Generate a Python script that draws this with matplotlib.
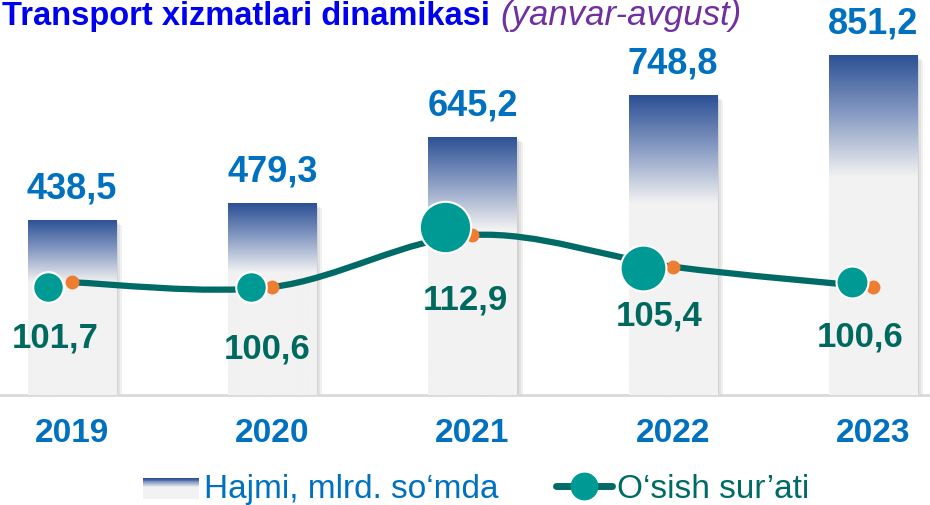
import matplotlib
matplotlib.use("Agg")
import matplotlib.pyplot as plt
import numpy as np
from matplotlib.colors import LinearSegmentedColormap
from matplotlib.patches import Rectangle, PathPatch
from matplotlib.path import Path
from matplotlib.lines import Line2D
from matplotlib.transforms import offset_copy
from matplotlib.legend_handler import HandlerBase

plt.rcParams['font.family'] = ['Liberation Sans', 'DejaVu Sans']

# data
years = ['2019', '2020', '2021', '2022', '2023']
volume = [438.5, 479.3, 645.2, 748.8, 851.2]      # mlrd. so'm
growth = [101.7, 100.6, 112.9, 105.4, 100.6]      # o'sish sur'ati, %

# styles
blue_txt = '#0070C0'
teal_txt = '#00695F'
line_col = '#006B66'
teal = '#009A94'
orange = '#ED7D31'
mk_size = [22, 22, 37, 33, 23]                    # teal marker diameter, pt
mk_off = [(-24, 5), (-21, 0), (-27, -8), (-30, 1), (-21, -5)]   # px, y down
lab_off = [(-17, 55), (-5, 61), (-7, 64), (-14, 48), (-13, 49)]  # px, y down

grad = LinearSegmentedColormap.from_list(
    'g', [(0, '#2B5094'), (0.17, '#8599C2'), (0.36, '#F2F2F2'), (1, '#F2F2F2')])

fig = plt.figure(figsize=(9.3, 5.06), dpi=100)
ax = fig.add_axes([0, 110 / 506, 1, 396 / 506])
x = np.arange(len(years))
w = 0.44

# shadows
for dx, dy, a in [(2, -2, 0.16), (4, -4, 0.13), (6, -5, 0.10)]:
    tr = offset_copy(ax.transData, fig=fig, x=dx, y=dy, units='dots')
    ax.bar(x, volume, width=w, color='#7F7F7F', alpha=a, transform=tr, zorder=1)

bars = ax.bar(x, volume, width=w, color='#F2F2F2', zorder=2)
g = np.linspace(0, 1, 256).reshape(-1, 1)
for b in bars:
    im = ax.imshow(g, cmap=grad, aspect='auto', origin='upper',
                   extent=[b.get_x(), b.get_x() + b.get_width(), 0, b.get_height()],
                   zorder=3)
    im.set_clip_path(b)

for i, v in enumerate(volume):
    ax.annotate(f'{v:.1f}'.replace('.', ','), (x[i], v), xytext=(0, 32),
                textcoords='offset pixels', ha='center', va='center',
                fontsize=26, fontweight='bold', color=blue_txt)

ax.set_xlim(-0.3596, 4.285)
ax.set_ylim(0, 990)
ax.set_yticks([])
ax.set_xticks(x)
ax.set_xticklabels(years, fontsize=24, fontweight='bold', color=blue_txt)
ax.tick_params(axis='x', length=0, pad=16)
for s in ['top', 'left', 'right']:
    ax.spines[s].set_visible(False)
ax.spines['bottom'].set_color('#D9D9D9')
ax.spines['bottom'].set_linewidth(2)

# growth line on second axis
ax2 = ax.twinx()
ax2.set_ylim(75.07, 168.69)
ax2.set_xlim(ax.get_xlim())
ax2.axis('off')

pts = np.column_stack([x, growth]).astype(float)
ext = np.vstack([pts[0], pts, pts[-1]])
verts = [pts[0]]
codes = [Path.MOVETO]
for i in range(len(pts) - 1):
    p0, p1, p2, p3 = ext[i], ext[i + 1], ext[i + 2], ext[i + 3]
    verts += [p1 + (p2 - p0) / 6, p2 - (p3 - p1) / 6, p2]
    codes += [Path.CURVE4] * 3
ax2.add_patch(PathPatch(Path(verts, codes), fill=False, edgecolor=line_col,
                        lw=4.5, capstyle='round', zorder=2))
ax2.plot(x, growth, 'o', ms=10, color=orange, mec='none', zorder=3)
for i, gv in enumerate(growth):
    dx, dy = mk_off[i]
    tr = offset_copy(ax2.transData, fig=fig, x=dx, y=-dy, units='dots')
    ax2.plot([x[i]], [gv], 'o', ms=mk_size[i], color=teal, mec='white', mew=1.5,
             transform=tr, zorder=4)
    lx, ly = lab_off[i]
    ax2.annotate(f'{gv:.1f}'.replace('.', ','), (x[i], gv), xytext=(lx, -ly),
                 textcoords='offset pixels', ha='center', va='center',
                 fontsize=25, fontweight='bold', color=teal_txt, zorder=5)


class GradHandler(HandlerBase):
    def create_artists(self, legend, orig, xd, yd, wd, ht, fs, trans):
        n = 24
        arts = []
        for k in range(n):
            c = grad(k / n * 0.9)
            arts.append(Rectangle((xd, yd + ht * (1 - (k + 1) / n)), wd, ht / n * 1.05,
                                  facecolor=c, edgecolor='none', transform=trans))
        return arts


h1 = Rectangle((0, 0), 1, 1)
h2 = Line2D([], [], color=line_col, lw=5, marker='o', ms=19, mfc=teal, mec=teal,
            solid_capstyle='round')
leg = fig.legend([h1, h2], ['Hajmi, mlrd. so\u2018mda', 'O\u2018sish sur\u2019ati'],
                 handler_map={h1: GradHandler()}, loc='center',
                 bbox_to_anchor=(0.512, 0.032), ncol=2, frameon=False, fontsize=24,
                 handlelength=1.7, handleheight=0.58, handletextpad=0.15,
                 columnspacing=1.7, numpoints=1, borderpad=0.2)
leg.get_texts()[0].set_color(blue_txt)
leg.get_texts()[1].set_color(line_col)

# title
t1 = fig.text(2 / 930, (506 - 25) / 506, 'Transport xizmatlari dinamikasi', ha='left',
              va='baseline', fontsize=23.5, fontweight='bold', color='#0000F0')
ax.annotate('(yanvar-avgust)', xy=(1, 0), xycoords=t1, xytext=(10, 0),
            textcoords='offset pixels', ha='left', va='bottom', fontsize=25,
            fontstyle='italic', color='#7030A0', annotation_clip=False)

fig.savefig('out.png', dpi=100)
